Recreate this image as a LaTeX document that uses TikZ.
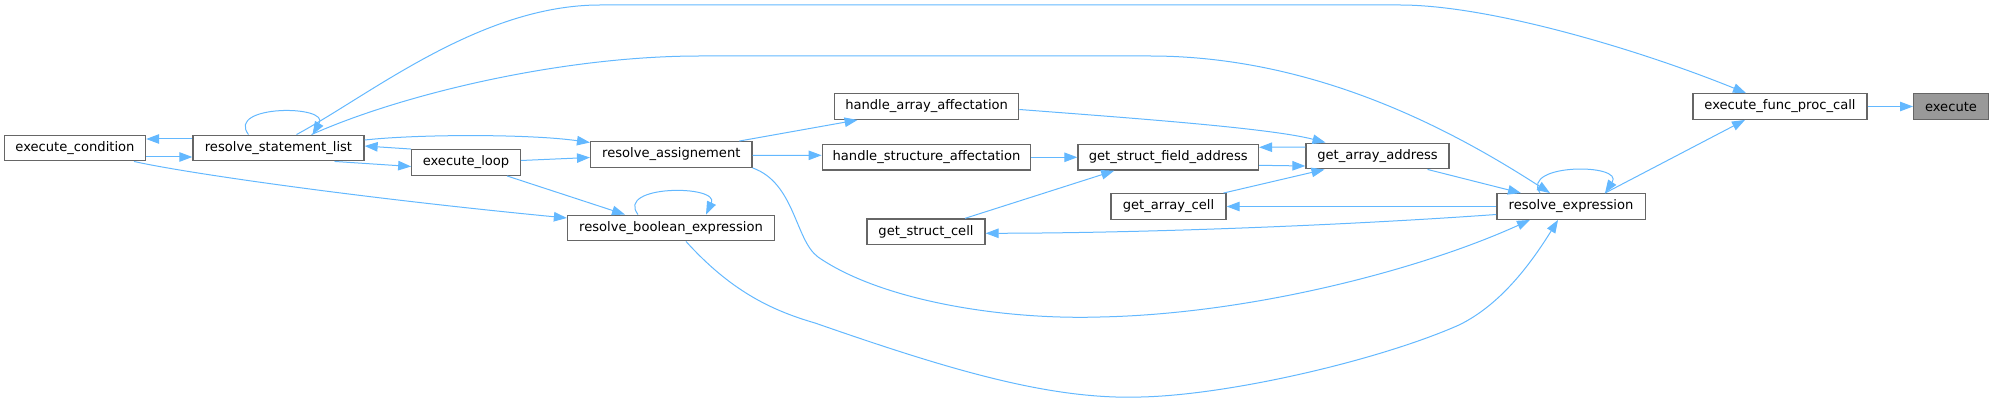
\documentclass[tikz,border=0pt]{standalone}
\usepackage{fontspec}
\setmainfont{DejaVu Sans}
\definecolor{callblue}{HTML}{63B8FF}
\definecolor{boxgray}{HTML}{666666}
\definecolor{rootgray}{HTML}{999999}
\usetikzlibrary{arrows.meta,positioning}

\begin{document}
\begin{tikzpicture}[x=1pt,y=-1pt,
    fn/.style={draw=boxgray, line width=1.3pt, fill=white, minimum height=25.6pt, inner sep=0pt, font=\fontsize{13.1}{15}\selectfont},
    call/.style={draw=callblue, line width=1pt, -{Triangle[length=13pt,width=9.5pt]}}]
        \useasboundingbox (0,0) rectangle (1993,403);

        \node[fn, minimum width=141pt] (cond) at (75,148) {execute\_condition};
        \node[fn, minimum width=171pt] (rsl) at (278.5,148) {resolve\_statement\_list};
        \node[fn, minimum width=108.4pt] (loop) at (466,162.5) {execute\_loop};
        \node[fn, minimum width=161.4pt] (assign) at (671.3,154.5) {resolve\_assignement};
        \node[fn, minimum width=207pt] (rbe) at (671,228) {resolve\_boolean\_expression};
        \node[fn, minimum width=184.4pt] (haa) at (926.6,106.5) {handle\_array\_affectation};
        \node[fn, minimum width=208.5pt] (hsa) at (926.5,157.3) {handle\_structure\_affectation};
        \node[fn, minimum width=180.5pt] (gsfa) at (1168.2,157.3) {get\_struct\_field\_address};
        \node[fn, minimum width=143pt] (gaa) at (1377.5,156) {get\_array\_address};
        \node[fn, minimum width=115pt] (gac) at (1168.5,206.5) {get\_array\_cell};
        \node[fn, minimum width=118pt] (gsc) at (926,231.8) {get\_struct\_cell};
        \node[fn, minimum width=148.3pt] (rexpr) at (1571,206.5) {resolve\_expression};
        \node[fn, minimum width=174pt] (efpc) at (1780,106.5) {execute\_func\_proc\_call};
        \node[fn, minimum width=74.7pt, fill=rootgray] (exec) at (1951,106.5) {execute};

        \draw[call] ([yshift=9pt]rsl.west) -- ([yshift=9pt]cond.east);
        \draw[call] ([yshift=-9pt]cond.east) -- ([yshift=-9pt]rsl.west);
        \draw[call] ([xshift=-30pt]rsl.north) .. controls +(-23,-30) and +(18,-30) .. ([xshift=34pt]rsl.north);
        \draw[call] ([xshift=18pt]rsl.north) .. controls (370,95) and (480,5) .. (600,5) -- (1400,5) .. controls (1490,5) and (1640,50) .. ([xshift=-34pt]efpc.north);
        \draw[call] ([xshift=33pt]rsl.north) .. controls (400,95) and (560,56) .. (700,56) -- (1150,56) .. controls (1320,56) and (1460,135) .. ([xshift=-21pt]rexpr.north);
        \draw[call] ([yshift=8pt]rsl.east) .. controls (420,134) and (530,134) .. ([yshift=12pt]assign.west);
        \draw[call] (loop.north west) -- ([yshift=2pt]rsl.east);
        \draw[call] ([xshift=56pt]rsl.south) -- ([yshift=-4pt]loop.west);
        \draw[call] ([yshift=2pt]loop.east) -- ([yshift=-3pt]assign.west);
        \draw[call] ([xshift=41pt]loop.south) -- ([xshift=-46pt]rbe.north);
        \draw[call] ([xshift=59pt]cond.south) .. controls (180,172) and (350,197) .. ([yshift=10pt]rbe.west);
        \draw[call] ([xshift=-33pt]rbe.north) .. controls +(-23,-30) and +(14,-30) .. ([xshift=35pt]rbe.north);
        \draw[call] ([xshift=68pt]assign.north) -- ([xshift=-69pt]haa.south);
        \draw[call] ([yshift=-1pt]assign.east) -- ([yshift=2pt]hsa.west);
        \draw[call] (assign.south east) .. controls (795,183) and (795,240) .. (818,257) .. controls (880,300) and (1000,320) .. (1100,317) .. controls (1250,314) and (1420,270) .. ([xshift=-41pt]rexpr.south);
        \draw[call] ([xshift=15pt]rbe.south) .. controls (730,290) and (770,310) .. (815,323) .. controls (950,370) and (1050,400) .. (1141,397) .. controls (1230,395) and (1380,360) .. (1459,325) .. controls (1500,305) and (1530,265) .. ([xshift=-13pt]rexpr.south);
        \draw[call] ([yshift=-3pt]haa.east) .. controls (1130,118) and (1270,128) .. ([xshift=-52pt]gaa.north);
        \draw[call] (hsa.east) -- (gsfa.west);
        \draw[call] ([yshift=9pt]gaa.west) -- ([yshift=10pt]gsfa.east);
        \draw[call] ([yshift=-8pt]gsfa.east) -- ([yshift=-10pt]gaa.west);
        \draw[call] ([xshift=39pt]gsc.north) -- ([xshift=-54pt]gsfa.south);
        \draw[call] ([xshift=55pt]gac.north) -- ([xshift=-53pt]gaa.south);
        \draw[call] (rexpr.west) -- (gac.east);
        \draw[call] ([yshift=-8pt]rexpr.west) .. controls (1350,225) and (1150,233) .. ([yshift=-1.5pt]gsc.east);
        \draw[call] ([xshift=50pt]gaa.south) -- ([xshift=-50pt]rexpr.north);
        \draw[call] ([xshift=-31pt]rexpr.north) .. controls +(-20,-30) and +(20,-30) .. ([xshift=34pt]rexpr.north);
        \draw[call] ([xshift=34pt]rexpr.north) -- ([xshift=-35pt]efpc.south);
        \draw[call] (efpc.east) -- (exec.west);
\end{tikzpicture}
\end{document}
